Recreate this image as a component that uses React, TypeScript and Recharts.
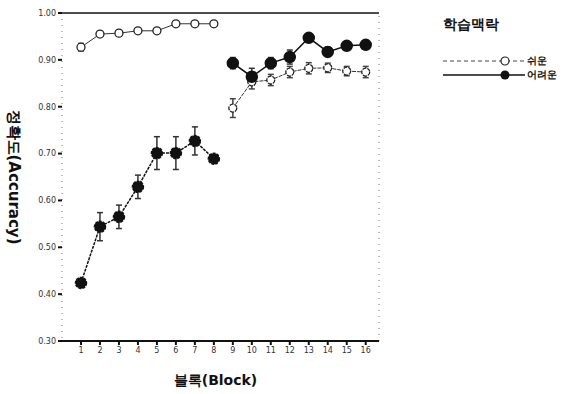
import { LineChart, Line, XAxis, YAxis, ErrorBar, ReferenceLine } from 'recharts';

// blocks 1-16, two phases (1-8, 9-16) drawn as separate segments
const blocks = [1, 2, 3, 4, 5, 6, 7, 8, 9, 10, 11, 12, 13, 14, 15, 16];
const easy = [0.927, 0.955, 0.957, 0.962, 0.962, 0.977, 0.977, 0.977, 0.797, 0.853, 0.857, 0.874, 0.882, 0.883, 0.876, 0.874];
const easyErr = [0.008, 0.005, 0.005, 0.005, 0.005, 0.004, 0.004, 0.004, 0.02, 0.015, 0.012, 0.012, 0.012, 0.01, 0.01, 0.012];
const hard = [0.424, 0.544, 0.565, 0.629, 0.701, 0.701, 0.727, 0.689, 0.893, 0.864, 0.893, 0.906, 0.947, 0.917, 0.93, 0.932];
const hardErr = [0.008, 0.03, 0.025, 0.025, 0.035, 0.035, 0.03, 0.008, 0.012, 0.018, 0.012, 0.015, 0.008, 0.01, 0.008, 0.008];
const yTicks = [0.3, 0.4, 0.5, 0.6, 0.7, 0.8, 0.9, 1.0];

const data = blocks.map((b, i) => {
  const first = b <= 8;
  return {
    block: b,
    easyA: first ? easy[i] : null,
    easyB: first ? null : easy[i],
    hardA: first ? hard[i] : null,
    hardB: first ? null : hard[i],
    easyErr: easyErr[i],
    hardErr: hardErr[i],
  };
});

const font = '"DejaVu Sans", sans-serif';

function LegendBox() {
  return (
    <div style={{ position: 'absolute', left: 443, top: 16, fontFamily: font, color: '#111' }}>
      <div style={{ fontWeight: 'bold', fontSize: 14, marginBottom: 20 }}>학습맥락</div>
      <div style={{ display: 'flex', alignItems: 'center', fontSize: 10, height: 14 }}>
        <svg width={82} height={12}>
          <line x1={0} y1={6} x2={82} y2={6} stroke="#444" strokeWidth={1} strokeDasharray="4 3" />
          <circle cx={62} cy={6} r={4} fill="#fff" stroke="#222" strokeWidth={1.2} />
        </svg>
        <span style={{ marginLeft: 2, fontWeight: 'bold' }}>쉬운</span>
      </div>
      <div style={{ display: 'flex', alignItems: 'center', fontSize: 10, height: 14 }}>
        <svg width={82} height={12}>
          <line x1={0} y1={6} x2={82} y2={6} stroke="#111" strokeWidth={1.5} />
          <circle cx={62} cy={6} r={4.5} fill="#111" />
        </svg>
        <span style={{ marginLeft: 2, fontWeight: 'bold' }}>어려운</span>
      </div>
    </div>
  );
}

export default function App() {
  const easyDot = { r: 4, fill: '#fff', stroke: '#222', strokeWidth: 1.3 };
  const hardDot = { r: 5.5, fill: '#111', stroke: '#111' };
  return (
    <div style={{ position: 'absolute', left: 0, top: 0, width: 565, height: 394, background: '#fff' }}>
      <LineChart width={565} height={394} data={data} margin={{ top: 13, right: 186, bottom: 9, left: 0 }}>
        <XAxis
          dataKey="block"
          type="number"
          domain={[0, 16.7]}
          ticks={blocks}
          interval={0}
          height={44}
          tickSize={4}
          axisLine={{ stroke: '#111', strokeWidth: 2 }}
          tickLine={{ stroke: '#111', strokeWidth: 2 }}
          tick={{ fontSize: 8, fill: '#333', fontFamily: font }}
          label={{ value: '블록(Block)', position: 'insideBottom', offset: 0, fontSize: 14, fontWeight: 'bold', fill: '#111', fontFamily: font, dx: -5 }}
        />
        <YAxis
          type="number"
          domain={[0.3, 1.0]}
          ticks={yTicks}
          interval={0}
          width={62}
          tickSize={4}
          tickFormatter={(v: number) => v.toFixed(2)}
          axisLine={{ stroke: '#777', strokeDasharray: '1 5' }}
          tickLine={{ stroke: '#111', strokeWidth: 2 }}
          tick={{ fontSize: 8, fill: '#333', fontFamily: font }}
          label={{ value: '정확도(Accuracy)', angle: 90, position: 'insideLeft', offset: 14, fontSize: 15, fontWeight: 'bold', fill: '#111', fontFamily: font, style: { textAnchor: 'middle' } }}
        />
        <ReferenceLine y={1.0} stroke="#111" strokeWidth={1.5} />
        <ReferenceLine x={16.7} stroke="#777" strokeDasharray="1 5" />
        <Line dataKey="easyA" stroke="#333" strokeWidth={1} isAnimationActive={false} dot={easyDot}>
          <ErrorBar dataKey="easyErr" direction="y" width={3} stroke="#444" />
        </Line>
        <Line dataKey="easyB" stroke="#333" strokeWidth={1} strokeDasharray="4 1" isAnimationActive={false} dot={easyDot}>
          <ErrorBar dataKey="easyErr" direction="y" width={3} stroke="#444" />
        </Line>
        <Line dataKey="hardA" stroke="#111" strokeWidth={1.5} strokeDasharray="3 1" isAnimationActive={false} dot={hardDot}>
          <ErrorBar dataKey="hardErr" direction="y" width={3} stroke="#333" strokeWidth={1.5} />
        </Line>
        <Line dataKey="hardB" stroke="#111" strokeWidth={1.5} isAnimationActive={false} dot={hardDot}>
          <ErrorBar dataKey="hardErr" direction="y" width={3} stroke="#333" strokeWidth={1.5} />
        </Line>
      </LineChart>
      <LegendBox />
    </div>
  );
}
